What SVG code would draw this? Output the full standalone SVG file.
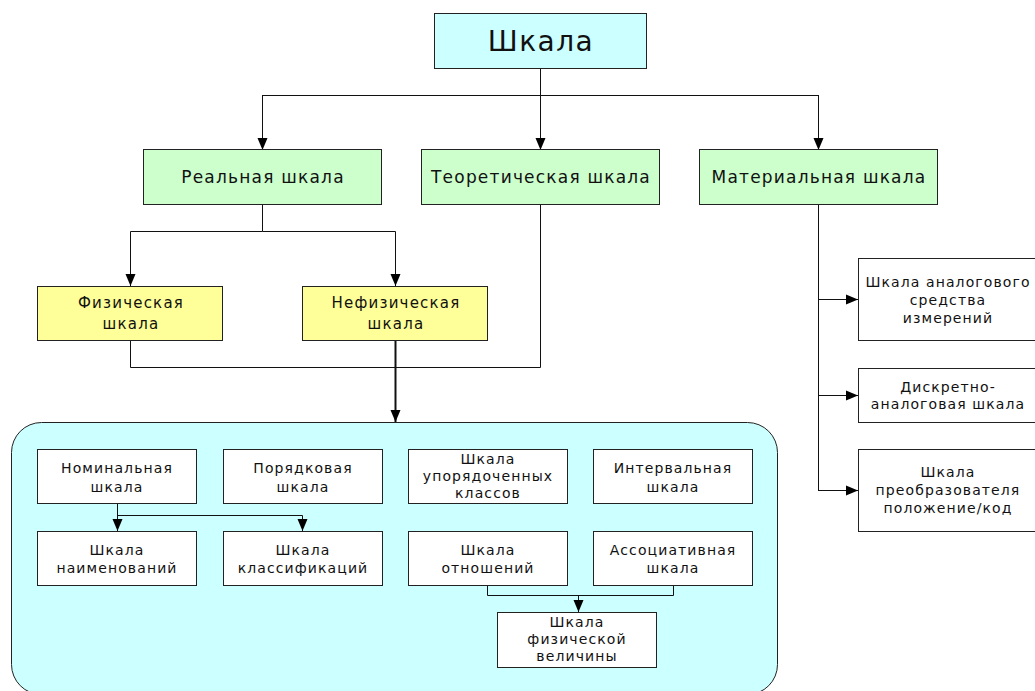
<svg xmlns="http://www.w3.org/2000/svg" width="1035" height="691" viewBox="0 0 1035 691">
<style>
text{font-family:"DejaVu Sans","Liberation Sans",sans-serif;fill:#111;text-anchor:middle}
.box{stroke:#222;stroke-width:1}
.top{fill:#ccffff}
.green{fill:#ccffcc}
.yellow{fill:#ffff99}
.white{fill:#ffffff}
.cont{fill:#ccffff;stroke:#222;stroke-width:1}
.t28{font-size:28px;letter-spacing:1.5px}
.t17{font-size:17px;letter-spacing:1.2px}
.t15{font-size:15px;letter-spacing:1.2px}
.t14{font-size:14px;letter-spacing:1.1px}
.c{fill:none;stroke:#111;stroke-width:1}
.c2{fill:none;stroke:#111;stroke-width:2}
</style>
<defs>
<marker id="ah" markerUnits="userSpaceOnUse" markerWidth="12" markerHeight="12" refX="12" refY="5" orient="auto" viewBox="0 0 12 10">
<path d="M0,0 L12,5 L0,10 z" fill="#000"/>
</marker>
</defs>

<g id="container">
<rect class="cont" x="11.5" y="422.5" width="766" height="272" rx="30" ry="30"/>
</g>

<g id="connectors">
<path class="c" d="M540.5,68 V150" marker-end="url(#ah)"/>
<path class="c" d="M262.5,95.5 H818.5"/>
<path class="c" d="M262.5,95 V150" marker-end="url(#ah)"/>
<path class="c" d="M818.5,95 V150" marker-end="url(#ah)"/>
<path class="c" d="M262.5,204 V231.5 H130.5 V286" marker-end="url(#ah)"/>
<path class="c" d="M262.5,231.5 H395.5 V286" marker-end="url(#ah)"/>
<path class="c" d="M130.5,340 V367.5 H540.5 V204"/>
<path class="c2" d="M395.5,340 V422" marker-end="url(#ah)"/>
<path class="c" d="M818.5,204 V490.5"/>
<path class="c" d="M818,299.5 H858" marker-end="url(#ah)"/>
<path class="c" d="M818,395.5 H858" marker-end="url(#ah)"/>
<path class="c" d="M818,490.5 H858" marker-end="url(#ah)"/>
<path class="c" d="M117.5,503 V531" marker-end="url(#ah)"/>
<path class="c" d="M117.5,515.5 H302.5 V531" marker-end="url(#ah)"/>
<path class="c" d="M487.5,585 V595.5 H673.5 V585"/>
<path class="c" d="M578.5,595 V612" marker-end="url(#ah)"/>
</g>

<g id="n-shkala">
<rect class="box top" x="434.5" y="13.5" width="212" height="55"/>
<text class="t28" x="541" y="51">Шкала</text>
</g>

<g id="n-real">
<rect class="box green" x="143.5" y="149.5" width="238" height="55"/>
<text class="t17" x="263" y="183">Реальная шкала</text>
</g>
<g id="n-teor">
<rect class="box green" x="421.5" y="149.5" width="238" height="55"/>
<text class="t17" x="541" y="183">Теоретическая шкала</text>
</g>
<g id="n-mat">
<rect class="box green" x="699.5" y="149.5" width="238" height="55"/>
<text class="t17" x="819" y="183">Материальная шкала</text>
</g>

<g id="n-fiz">
<rect class="box yellow" x="37.5" y="286.5" width="185" height="54"/>
<text class="t15" x="131" y="308">Физическая</text>
<text class="t15" x="131" y="329">шкала</text>
</g>
<g id="n-nefiz">
<rect class="box yellow" x="302.5" y="286.5" width="185" height="54"/>
<text class="t15" x="396" y="308">Нефизическая</text>
<text class="t15" x="396" y="329">шкала</text>
</g>

<g id="n-analog">
<rect class="box white" x="858.5" y="258.5" width="180" height="82"/>
<text class="t14" x="948" y="287">Шкала аналогового</text>
<text class="t14" x="948" y="305">средства</text>
<text class="t14" x="948" y="323">измерений</text>
</g>
<g id="n-discr">
<rect class="box white" x="858.5" y="368.5" width="180" height="54"/>
<text class="t14" x="948" y="392">Дискретно-</text>
<text class="t14" x="948" y="409">аналоговая шкала</text>
</g>
<g id="n-preobr">
<rect class="box white" x="858.5" y="449.5" width="180" height="82"/>
<text class="t14" x="948" y="477">Шкала</text>
<text class="t14" x="948" y="495">преобразователя</text>
<text class="t14" x="948" y="513">положение/код</text>
</g>

<g id="n-nomin">
<rect class="box white" x="37.5" y="449.5" width="159" height="54"/>
<text class="t14" x="117" y="473">Номинальная</text>
<text class="t14" x="117" y="492">шкала</text>
</g>
<g id="n-poryad">
<rect class="box white" x="223.5" y="449.5" width="159" height="54"/>
<text class="t14" x="303" y="473">Порядковая</text>
<text class="t14" x="303" y="492">шкала</text>
</g>
<g id="n-uporyad">
<rect class="box white" x="408.5" y="449.5" width="159" height="54"/>
<text class="t14" x="488" y="464">Шкала</text>
<text class="t14" x="488" y="481">упорядоченных</text>
<text class="t14" x="488" y="498">классов</text>
</g>
<g id="n-interv">
<rect class="box white" x="593.5" y="449.5" width="159" height="54"/>
<text class="t14" x="673" y="473">Интервальная</text>
<text class="t14" x="673" y="492">шкала</text>
</g>
<g id="n-naim">
<rect class="box white" x="37.5" y="531.5" width="159" height="54"/>
<text class="t14" x="117" y="555">Шкала</text>
<text class="t14" x="117" y="573">наименований</text>
</g>
<g id="n-klass">
<rect class="box white" x="223.5" y="531.5" width="159" height="54"/>
<text class="t14" x="303" y="555">Шкала</text>
<text class="t14" x="303" y="573">классификаций</text>
</g>
<g id="n-otnosh">
<rect class="box white" x="408.5" y="531.5" width="159" height="54"/>
<text class="t14" x="488" y="555">Шкала</text>
<text class="t14" x="488" y="573">отношений</text>
</g>
<g id="n-assoc">
<rect class="box white" x="593.5" y="531.5" width="159" height="54"/>
<text class="t14" x="673" y="555">Ассоциативная</text>
<text class="t14" x="673" y="573">шкала</text>
</g>
<g id="n-fizvel">
<rect class="box white" x="497.5" y="612.5" width="159" height="55"/>
<text class="t14" x="577" y="627">Шкала</text>
<text class="t14" x="577" y="644">физической</text>
<text class="t14" x="577" y="661">величины</text>
</g>
</svg>
